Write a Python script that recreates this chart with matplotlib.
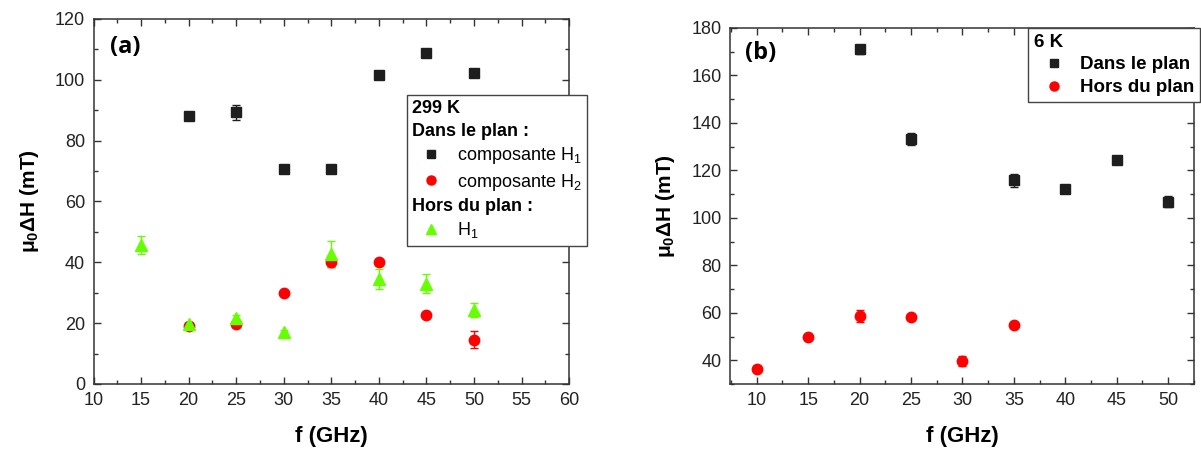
import matplotlib
matplotlib.use("Agg")
import matplotlib.pyplot as plt
from matplotlib.lines import Line2D
from matplotlib.ticker import MultipleLocator

# (a) 299 K
f_a_h1 = [20, 25, 30, 35, 40, 45, 50]
dh_a_h1 = [88.2, 89.3, 70.8, 70.8, 101.6, 108.9, 102.2]
err_a_h1 = [0.8, 2.5, 0.6, 0.6, 0.8, 0.8, 0.8]

f_a_h2 = [20, 25, 30, 35, 40, 45, 50]
dh_a_h2 = [19.0, 19.8, 30.0, 40.0, 40.0, 22.8, 14.6]
err_a_h2 = [0.6, 0.8, 0.6, 1.5, 0.8, 0.6, 2.7]

f_a_out = [15, 20, 25, 30, 35, 40, 45, 50]
dh_a_out = [45.8, 19.6, 21.8, 17.1, 42.7, 34.5, 32.9, 24.3]
err_a_out = [3.0, 0.8, 1.0, 0.6, 4.2, 3.3, 3.1, 2.4]

# (b) 6 K
f_b_in = [20, 25, 35, 40, 45, 50]
dh_b_in = [171.0, 133.3, 115.8, 112.0, 124.2, 106.8]
err_b_in = [2.0, 2.5, 2.6, 1.0, 1.5, 2.3]

f_b_out = [10, 15, 20, 25, 30, 35]
dh_b_out = [36.5, 50.0, 58.5, 58.1, 39.6, 54.8]
err_b_out = [1.2, 0.8, 2.5, 1.0, 2.2, 0.8]

BLACK = "#1e1e1e"
RED = "#ff0000"
GREEN = "#66ff00"

plt.rcParams["font.family"] = ["Liberation Sans Narrow", "Liberation Sans", "DejaVu Sans"]
plt.rcParams["mathtext.fontset"] = "custom"
plt.rcParams["mathtext.rm"] = "Liberation Sans"
plt.rcParams["mathtext.default"] = "regular"

fig = plt.figure(figsize=(12.01, 4.51), dpi=100)
ax_a = fig.add_axes([0.0779, 0.1486, 0.396, 0.8094])
ax_b = fig.add_axes([0.6078, 0.1486, 0.3863, 0.7894])


def style_axes(ax):
    ax.tick_params(which="both", direction="in", top=True, right=True, width=1, colors="#333333")
    ax.tick_params(which="major", length=5, labelsize=13, labelcolor="#222222", pad=6)
    ax.tick_params(which="minor", length=3)
    for s in ax.spines.values():
        s.set_linewidth(1.1)
        s.set_color("#333333")
    ax.set_xlabel("f (GHz)", fontsize=16, fontweight="bold", labelpad=12)
    ax.set_ylabel("μ$_0$ΔH (mT)", fontsize=15, fontweight="bold",
                  family=["Liberation Sans", "DejaVu Sans"])


def header_rows(leg, headers):
    # no marker slot for the section titles inside the legend
    for col in leg._legend_handle_box.get_children():
        for row in col.get_children():
            da, tb = row.get_children()
            txt = tb.get_children()[0]
            if txt.get_text() in headers:
                da.set_width(0)
                row.sep = 0
                txt.set_fontweight("bold")


ebkw = dict(linestyle="none", capsize=3, elinewidth=1, capthick=1)
legkw = dict(loc="upper left", borderaxespad=0, frameon=True, fancybox=False,
             edgecolor="#444444", framealpha=1, labelspacing=0.3,
             handlelength=2.1, handletextpad=0.35, borderpad=0.3)

# panel (a)
ax_a.errorbar(f_a_h1, dh_a_h1, yerr=err_a_h1, marker="s", ms=6.5, color=BLACK, **ebkw)
ax_a.errorbar(f_a_h2, dh_a_h2, yerr=err_a_h2, marker="o", ms=7.5, color=RED, **ebkw)
ax_a.errorbar(f_a_out, dh_a_out, yerr=err_a_out, marker="^", ms=8, color=GREEN, **ebkw)
ax_a.set_xlim(10, 60)
ax_a.set_ylim(0, 120)
ax_a.xaxis.set_major_locator(MultipleLocator(5))
ax_a.xaxis.set_minor_locator(MultipleLocator(2.5))
ax_a.yaxis.set_major_locator(MultipleLocator(20))
ax_a.yaxis.set_minor_locator(MultipleLocator(10))
style_axes(ax_a)
ax_a.yaxis.labelpad = 10
ax_a.text(0.035, 0.923, "(a)", transform=ax_a.transAxes, fontsize=17, fontweight="bold",
          family=["Open Sans", "DejaVu Sans"], va="center")

blank = Line2D([], [], linestyle="none")
h_a = [blank, blank,
       Line2D([], [], marker="s", ms=6, color=BLACK, linestyle="none"),
       Line2D([], [], marker="o", ms=6.5, color=RED, linestyle="none"),
       blank,
       Line2D([], [], marker="^", ms=7, color=GREEN, linestyle="none")]
l_a = ["299 K", "Dans le plan :", "composante H$_1$", "composante H$_2$", "Hors du plan :", "H$_1$"]
leg_a = ax_a.legend(h_a, l_a, bbox_to_anchor=(0.659, 0.792),
                    prop={"family": ["Liberation Sans", "DejaVu Sans"], "size": 13}, **legkw)
leg_a.get_frame().set_linewidth(1)
header_rows(leg_a, ["299 K", "Dans le plan :", "Hors du plan :"])

# panel (b)
ax_b.errorbar(f_b_in, dh_b_in, yerr=err_b_in, marker="s", ms=6.5, color=BLACK, **ebkw)
ax_b.errorbar(f_b_out, dh_b_out, yerr=err_b_out, marker="o", ms=7.5, color=RED, **ebkw)
ax_b.set_xlim(7.4, 52.5)
ax_b.set_ylim(30, 180)
ax_b.xaxis.set_major_locator(MultipleLocator(5))
ax_b.xaxis.set_minor_locator(MultipleLocator(2.5))
ax_b.yaxis.set_major_locator(MultipleLocator(20))
ax_b.yaxis.set_minor_locator(MultipleLocator(10))
style_axes(ax_b)
ax_b.yaxis.labelpad = 10
ax_b.text(0.032, 0.93, "(b)", transform=ax_b.transAxes, fontsize=17, fontweight="bold",
          family=["Open Sans", "DejaVu Sans"], va="center")

h_b = [blank,
       Line2D([], [], marker="s", ms=6, color=BLACK, linestyle="none"),
       Line2D([], [], marker="o", ms=6.5, color=RED, linestyle="none")]
l_b = ["6 K", "Dans le plan", "Hors du plan"]
leg_b = ax_b.legend(h_b, l_b, bbox_to_anchor=(0.643, 1.0),
                    prop={"family": ["Liberation Sans", "DejaVu Sans"], "size": 13.5, "weight": "bold"},
                    **legkw)
leg_b.get_frame().set_linewidth(1)
header_rows(leg_b, ["6 K"])

fig.savefig("out.png", dpi=100)
